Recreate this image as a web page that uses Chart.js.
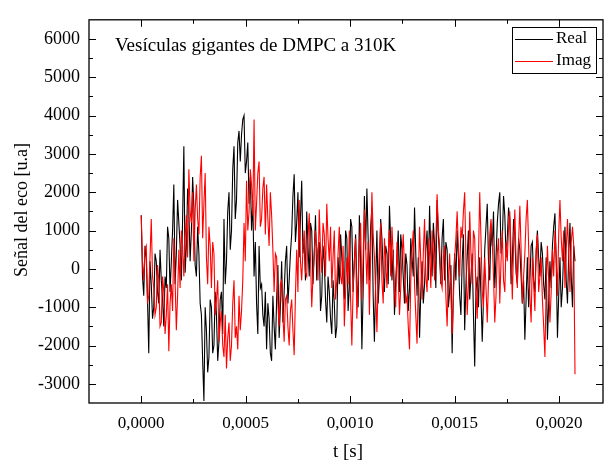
<!DOCTYPE html>
<html>
<head>
<meta charset="utf-8">
<script src="https://cdn.jsdelivr.net/npm/chart.js@4"></script>
<style>
  body { margin: 0; background: #fff; }
  #wrap { width: 605px; height: 461px; position: relative; }
</style>
</head>
<body>
<div id="wrap"><canvas id="graph"></canvas></div>
<script>
// paso de muestreo (s)
const DT = 6e-6;

// Señal del eco, parte real (u.a.)
const realSig = [
  1400, -200, -700, 600, 300, -800, -2200, 200, -400, -1300, -1000, 400, 200, -600, -900, 500, -300, -800, -1500, -200,
  -500, 1100, 800, -600, 200, 1000, 2200, -400, 400, 1800, 1200, 600, -300, 1300, 3200, -100, 600, 2100, 1500, 200,
  1000, 2400, 1600, 100, -200, 1100, 400, -900, -1200, -2400, -3450, -1000, -1600, -2700, -2300, -800, -1000, -2200, -2000, -600,
  -1200, -2400, -1900, -800, -600, -1700, 1300, -400, 200, 1500, 2000, 500, 1000, 2600, 3200, 1300, 1800, 3300, 3600, 2800,
  3500, 3900, 4000, 2500, 2800, 3300, 1700, 2400, 1000, 1800, -200, 700, -900, -1700, 600, -500, -400, -1200, -1500, -600,
  -2100, -900, -1300, -2200, -2400, -700, -1500, -2100, -800, 100, -1800, -1000, 200, -1400, -600, 200, 600, -900, -300, 400,
  900, 1900, 2470, 700, 1200, 2000, 300, 1300, 2300, 400, 800, -300, 1500, 600, -200, 1200, 1000, -400, 400, 1400,
  -300, 500, 700, -1100, -700, 600, 200, -800, -1400, -200, -600, -1300, -1700, -300, -900, -1800, -1500, 300, -400, 900,
  300, -300, -800, 1000, 800, -1100, -500, 1300, 1100, -600, 200, 900, -400, -1000, 1400, 200, -2100, -600, 1900, 500,
  2100, 800, -300, 1100, 1600, -700, -1900, -300, 1000, -900, -200, 1300, 800, -100, -600, 600, 400, -400, 1650, 700,
  -300, 500, -1200, -300, 300, 1000, -600, 900, 500, -200, -900, 400, 100, -1100, -500, 800, 300, -200, 1600, 400,
  -700, 300, -1800, -600, 200, -900, -400, 500, 1000, -300, 1650, 400, -200, 1200, 600, -500, 1800, 900, 300, -400,
  800, 1300, -300, 700, 500, -1000, -600, 100, -2200, -500, 400, -300, 1000, 300, -700, -1200, 200, 900, -1600, -400,
  300, 1000, -800, -200, 400, -1200, -2550, -600, -200, -1000, 300, -700, -1900, -800, 500, 1100, 1700, 200, -300, 1100,
  600, 1500, -500, 300, 1200, 1700, 2000, 400, 700, 1900, 1400, 300, 800, 1600, 1300, -400, 200, 1300, 900, -100,
  -400, 800, 500, -200, -900, -300, -1850, -800, 300, -1000, -300, 600, 700, -300, -600, 400, 1000, 300, -200, 700,
  400, -400, -800, 300, -1850, -900, 200, -500, 600, 1100, 1450, 200, -1800, -700, 300, -1000, -500, 500, 1100, -300,
  -900, 400, 1200, -200, -1000, 600, 200
];

// Señal del eco, parte imaginaria (u.a.)
const imagSig = [
  1400, 200, -300, 500, 600, -900, -700, 300, 1300, -200, -500, -1200, -1000, 100, -300, -1500, -1400, -200, -600, -1700,
  -1200, -400, -2150, -900, -400, -1100, 800, -300, -1600, -700, 500, -500, 1000, 600, -200, 800, 1400, 300, 2600, 1500,
  1200, 2000, 200, 1500, 2200, 1300, 900, 2400, 2950, 800, 1700, 2500, 300, -400, 1100, 600, -500, 700, 400, -1200,
  -800, -300, -1900, -1400, -1100, -2000, -2300, -1200, -2600, -1800, -1400, -2400, -2000, -900, -300, -1800, -1500, -2100, -700, -1600,
  -1100, -300, 1200, 200, 2300, 1000, 1500, 2600, 2200, 1400, 3900, 1000, 1700, 2500, 2800, 1100, 1300, 2100, 2400, 900,
  2200, 1300, 600, 2000, 1400, 500, -600, 400, 300, -900, -1500, -400, -300, -1200, -1900, -800, -700, -1500, -2000, -1100,
  -800, -1600, -2250, -700, 500, -600, 1800, 200, -300, 500, 1000, -100, -200, 800, 1450, 300, -1000, -200, 400, 1000,
  600, -300, 1550, 500, -100, 1200, 900, -200, 1700, 800, 200, 1100, -500, 300, 1000, -800, -300, 400, 1100, -200,
  -400, 600, -1500, -600, 300, -400, 1000, -800, -2000, -500, 200, 800, -1300, -400, 600, 1200, -800, 300, 1550, 600,
  -400, 700, -1200, 300, 2000, 900, 300, -600, -1650, -300, 500, 1200, -300, -900, 800, 200, -500, 400, 1000, -200,
  1100, 300, -600, -1000, 700, -200, -1200, -500, 300, 900, 0, -900, -700, -1500, -2100, -300, 500, 1000, -400, -1200,
  -1950, -400, 1100, 200, -800, 400, 1300, -200, -600, 800, 400, -500, 1000, 400, -300, 700, 1950, 1000, 600, -300,
  -500, 300, 600, -700, -1500, -300, 400, -600, -1700, -800, 300, 800, 1500, 500, -200, 1100, 800, 1500, 2000, 300,
  -1200, -400, 1500, 400, -400, 1000, 800, -600, -1300, 300, 2000, 800, -600, -1000, 300, -500, -1400, -300, 900, 1300,
  700, -200, -1400, -700, 400, 800, -900, 200, 1000, -300, -600, 700, 200, 1100, 1500, 400, -800, 600, 1550, 200,
  -500, 700, 1650, 500, -900, -200, 400, 1300, 1800, 600, -700, -1400, 300, -400, -1100, 500, 900, -600, -200, 300,
  -800, -1500, -2300, -500, 600, -300, -1400, -600, 500, -200, 1000, 300, -700, 900, 1800, 800, 200, 1000, -500, 500,
  1300, 400, -600, 700, 1100, 600, -2750
];

const xTicks = [0, 0.0005, 0.0010, 0.0015, 0.0020];
const xMinor = [0.00025, 0.00075, 0.00125, 0.00175];
const yTicks = [-3000, -2000, -1000, 0, 1000, 2000, 3000, 4000, 5000, 6000];
const yMinor = [-2500, -1500, -500, 500, 1500, 2500, 3500, 4500, 5500];

const FONT = "'Liberation Serif', 'Times New Roman', serif";

function toPts(arr) {
  return arr.map((v, i) => ({ x: i * DT, y: v }));
}

// marco, marcas interiores, titulos y leyenda
const decor = {
  id: 'decor',
  afterDatasetsDraw(chart) {
    const { ctx, chartArea: a, scales: { x, y } } = chart;
    ctx.save();
    ctx.strokeStyle = '#000';
    ctx.lineWidth = 1.3;
    ctx.strokeRect(a.left, a.top, a.right - a.left, a.bottom - a.top);

    ctx.lineWidth = 1;
    ctx.beginPath();
    const xt = (v, len) => {
      const p = Math.round(x.getPixelForValue(v)) + 0.5;
      ctx.moveTo(p, a.bottom); ctx.lineTo(p, a.bottom - len);
      ctx.moveTo(p, a.top); ctx.lineTo(p, a.top + len);
    };
    const yt = (v, len) => {
      const p = Math.round(y.getPixelForValue(v)) + 0.5;
      ctx.moveTo(a.left, p); ctx.lineTo(a.left + len, p);
      ctx.moveTo(a.right, p); ctx.lineTo(a.right - len, p);
    };
    xTicks.forEach(v => xt(v, 7));
    xMinor.forEach(v => xt(v, 4));
    yTicks.forEach(v => yt(v, 7));
    yMinor.forEach(v => yt(v, 4));
    ctx.stroke();

    // textos
    ctx.fillStyle = '#000';
    ctx.font = '19px ' + FONT;
    ctx.textBaseline = 'alphabetic';
    ctx.textAlign = 'left';
    ctx.fillText('Vesículas gigantes de DMPC a 310K', 115, 51);

    ctx.font = '19px ' + FONT;
    ctx.textAlign = 'center';
    ctx.textBaseline = 'middle';
    ctx.fillText('t [s]', 348, 452);

    ctx.save();
    ctx.translate(22, 210);
    ctx.rotate(-Math.PI / 2);
    ctx.font = '18px ' + FONT;
    ctx.fillText('Señal del eco [u.a]', 0, 0);
    ctx.restore();

    // leyenda
    ctx.fillStyle = '#fff';
    ctx.fillRect(512, 27, 84, 46);
    ctx.strokeStyle = '#000';
    ctx.lineWidth = 1;
    ctx.strokeRect(512.5, 27.5, 84, 46);
    ctx.beginPath();
    ctx.moveTo(515, 39.5); ctx.lineTo(553, 39.5);
    ctx.stroke();
    ctx.strokeStyle = '#ff0000';
    ctx.beginPath();
    ctx.moveTo(515, 61.5); ctx.lineTo(553, 61.5);
    ctx.stroke();
    ctx.fillStyle = '#000';
    ctx.font = '17px ' + FONT;
    ctx.textAlign = 'left';
    ctx.textBaseline = 'middle';
    ctx.fillText('Real', 556, 39);
    ctx.fillText('Imag', 556, 61);
    ctx.restore();
  }
};

const chart = new Chart(document.getElementById('graph'), {
  type: 'line',
  data: {
    datasets: [{
      label: 'Real',
      data: toPts(realSig),
      borderColor: '#000000',
      borderWidth: 1.1,
      pointRadius: 0,
      tension: 0,
      order: 1
    }, {
      label: 'Imag',
      data: toPts(imagSig),
      borderColor: '#ff0000',
      borderWidth: 1.1,
      pointRadius: 0,
      tension: 0,
      order: 0
    }]
  },
  options: {
    responsive: true,
    maintainAspectRatio: false,
    animation: false,
    layout: { padding: { top: 15, right: 2, left: 0, bottom: 0 } },
    plugins: { legend: { display: false }, tooltip: { enabled: false } },
    scales: {
      x: {
        type: 'linear',
        min: -0.00025,
        max: 0.00221,
        grid: { display: false, drawTicks: false },
        border: { display: false },
        afterBuildTicks: s => { s.ticks = xTicks.map(v => ({ value: v })); },
        afterFit: s => { s.height = 58; },
        ticks: {
          padding: 10,
          color: '#000',
          font: { family: FONT, size: 17 },
          maxRotation: 0,
          callback: v => v.toFixed(4).replace('.', ',')
        }
      },
      y: {
        min: -3500,
        max: 6500,
        grid: { display: false, drawTicks: false },
        border: { display: false },
        afterBuildTicks: s => { s.ticks = yTicks.map(v => ({ value: v })); },
        afterFit: s => { s.width = 89; },
        ticks: {
          padding: 9,
          color: '#000',
          font: { family: FONT, size: 18 },
          callback: v => String(v)
        }
      }
    }
  },
  plugins: [decor]
});
</script>
</body>
</html>
